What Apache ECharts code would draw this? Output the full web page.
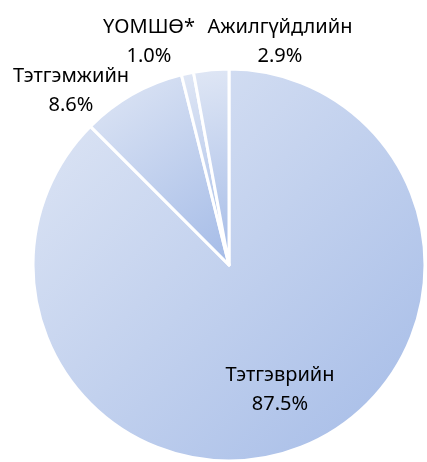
<!DOCTYPE html>
<html>
<head>
<meta charset="utf-8">
<script src="https://cdn.jsdelivr.net/npm/echarts@6/dist/echarts.min.js"></script>
<style>
  html, body { margin: 0; padding: 0; background: #fff; }
  #chart { width: 427px; height: 462px; }
</style>
</head>
<body>
<div id="chart"></div>
<script>
var names = ['Тэтгэврийн', 'Тэтгэмжийн', 'ҮОМШӨ*', 'Ажилгүйдлийн'];
var values = [87.5, 8.6, 1.0, 2.9];
// where each label block is centred (excel put them by hand)
var labelPos = [[280, 390], [71, 91], [149, 42], [280, 42]];

var fill = {
  type: 'linear', x: 0, y: 0, x2: 1, y2: 1,
  colorStops: [
    { offset: 0, color: '#e0e7f5' },
    { offset: 1, color: '#a4bbe7' }
  ]
};

var chart = echarts.init(document.getElementById('chart'));

var data = names.map(function (n, i) {
  return { name: n, value: values[i] };
});

chart.setOption({
  animation: false,
  series: [{
    type: 'pie',
    center: [229, 265],
    radius: [0, 196],
    startAngle: 90,
    clockwise: true,
    avoidLabelOverlap: false,
    data: data,
    itemStyle: {
      color: fill,
      borderColor: '#fff',
      borderWidth: 3
    },
    label: {
      show: true,
      position: 'outside',
      formatter: function (p) { return p.name + '\n' + p.value.toFixed(1) + '%'; },
      fontFamily: 'Noto Sans',
      fontSize: 20,
      lineHeight: 29,
      color: '#000',
      align: 'center',
      overflow: 'none'
    },
    labelLine: { show: false },
    labelLayout: function (p) {
      var xy = labelPos[p.dataIndex];
      return { x: xy[0], y: xy[1], align: 'center', verticalAlign: 'middle', hideOverlap: false };
    },
    emphasis: { disabled: true }
  }]
});
</script>
</body>
</html>
